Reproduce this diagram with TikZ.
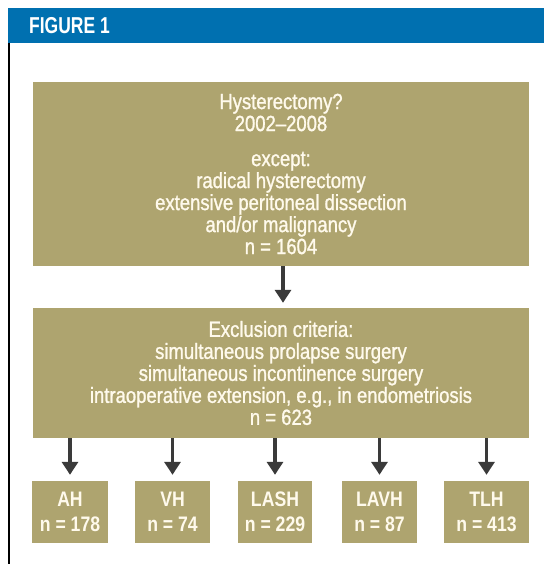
\documentclass[tikz,border=0pt]{standalone}
\usepackage{fontspec}
\setmainfont{Liberation Sans}[FakeStretch=0.84]
\newfontfamily\medfont{Liberation Sans}[FakeStretch=0.84, FakeBold=1.2, Ligatures=TeX]
\newfontfamily\headfont{Liberation Sans Bold}[FakeStretch=0.76]
\usetikzlibrary{arrows.meta}
\definecolor{olive}{RGB}{174,164,111}
\definecolor{cream}{RGB}{255,250,236}
\definecolor{hblue}{RGB}{0,112,176}
\definecolor{arrowgrey}{RGB}{58,58,58}
\tikzset{
  bigbox/.style={fill=olive, text=cream, align=center, minimum width=496pt, inner sep=0pt,
    font=\medfont\fontsize{22}{22}\selectfont},
  smallbox/.style={fill=olive, text=cream, align=center, minimum height=62pt, inner sep=0pt,
    font=\fontsize{21}{24.5}\selectfont\bfseries},
  flow/.style={draw=arrowgrey, line width=3.8pt, -{Triangle[width=16pt,length=13pt]}}
}
\begin{document}
\begin{tikzpicture}[x=1pt,y=-1pt]
\useasboundingbox (0,0) rectangle (544,564);
\fill[white] (0,0) rectangle (544,564);
% header
\fill[hblue] (8,8) rectangle (544,43);
\node[anchor=west, text=white, inner sep=0pt, font=\headfont\fontsize{23}{24}\selectfont] (title) at (29,26) {FIGURE 1};
\draw[black, line width=2pt] (9,43) -- (9,564);
% boxes
\node[bigbox, minimum height=184pt] (top) at (281,174) {Hysterectomy?\\2002–2008\\[13pt]except:\\radical hysterectomy\\extensive peritoneal dissection\\and/or malignancy\\n = 1604};
\node[bigbox, minimum height=130pt] (ex) at (281,373) {Exclusion criteria:\\simultaneous prolapse surgery\\simultaneous incontinence surgery\\intraoperative extension, e.g., in endometriosis\\n = 623};
\node[smallbox, minimum width=76pt] (ah) at (70,512) {AH\\n = 178};
\node[smallbox, minimum width=75pt] (vh) at (172.5,512) {VH\\n = 74};
\node[smallbox, minimum width=74pt] (lash) at (275,512) {LASH\\n = 229};
\node[smallbox, minimum width=75pt] (lavh) at (379.5,512) {LAVH\\n = 87};
\node[smallbox, minimum width=85pt] (tlh) at (486.5,512) {TLH\\n = 413};
% arrows
\draw[flow, shorten >=5pt] (top.south -| ex.north) ++(2,0) coordinate (s0) (s0) -- (s0 |- ex.north);
\foreach \b in {ah,vh,lash,lavh,tlh}{
  \draw[flow, shorten >=6pt] (ex.south -| \b.north) -- (\b.north);
}
\end{tikzpicture}
\end{document}
